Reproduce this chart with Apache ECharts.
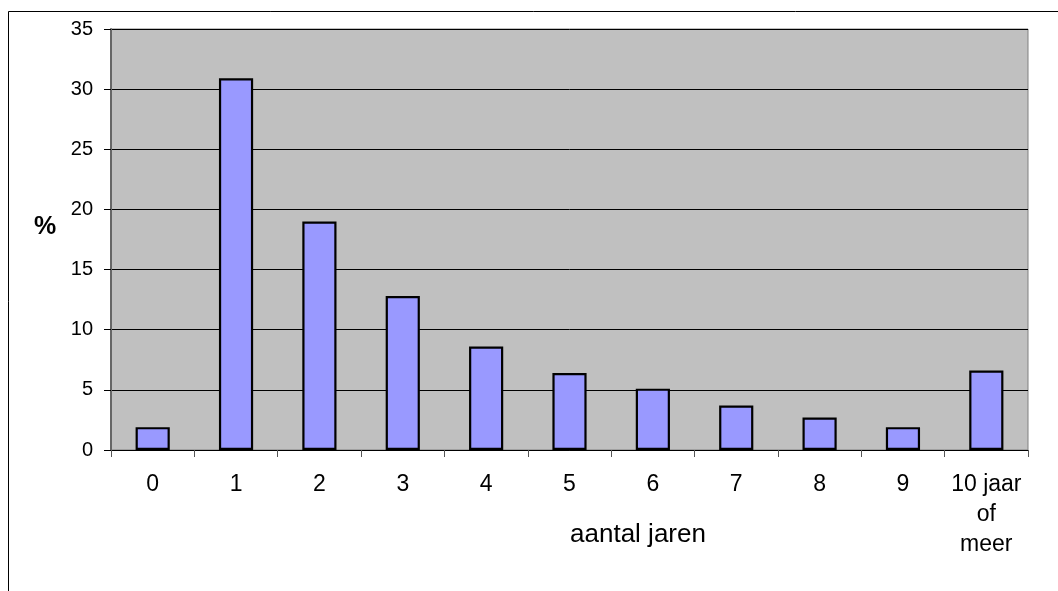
<!DOCTYPE html>
<html>
<head>
<meta charset="utf-8">
<script src="https://cdn.jsdelivr.net/npm/echarts@6/dist/echarts.min.js"></script>
<style>
html,body{margin:0;padding:0;background:#fff;}
#main{width:1058px;height:591px;}
</style>
</head>
<body>
<div id="main"></div>
<script>
const categories = ['0','1','2','3','4','5','6','7','8','9','10 jaar\nof\nmeer'];
const values = [1.9, 30.9, 19.0, 12.8, 8.6, 6.4, 5.1, 3.7, 2.7, 1.9, 6.6];
const yTicks = {min: 0, max: 35, interval: 5};
const yName = '%';
const xName = 'aantal jaren';

const chart = echarts.init(document.getElementById('main'), null, {renderer: 'canvas'});
const font = '"Liberation Sans", Arial, sans-serif';
chart.setOption({
  animation: false,
  backgroundColor: '#ffffff',
  grid: {left: 111, top: 29, right: 30, bottom: 141, show: true, backgroundColor: '#c0c0c0', borderColor: '#808080', borderWidth: 1},
  xAxis: {
    type: 'category',
    data: categories,
    axisLine: {lineStyle: {color: '#000', width: 1}},
    axisTick: {show: true, length: 7, lineStyle: {color: '#555'}},
    axisLabel: {interval: 0, margin: 20, fontFamily: font, fontSize: 23, color: '#000', lineHeight: 30}
  },
  yAxis: {
    type: 'value',
    min: yTicks.min, max: yTicks.max, interval: yTicks.interval,
    axisLine: {show: true, lineStyle: {color: '#666', width: 2}},
    axisTick: {show: true, length: 7, lineStyle: {color: '#000'}},
    axisLabel: {margin: 18, fontFamily: font, fontSize: 20, color: '#000'},
    splitLine: {show: true, lineStyle: {color: '#000', width: 1}}
  },
  graphic: [
    {type: 'polyline', silent: true, z: 100, shape: {points: [[8.5, 591], [8.5, 11.5], [1058, 11.5]]}, style: {stroke: '#000', lineWidth: 1, fill: null}},
    {type: 'text', x: 45, y: 227, z: 100, style: {text: yName, font: 'bold 25px ' + font, fill: '#000', align: 'center', verticalAlign: 'middle'}},
    {type: 'text', x: 638, y: 535, z: 100, style: {text: xName, font: '26px ' + font, fill: '#000', align: 'center', verticalAlign: 'middle'}}
  ],
  series: [{
    type: 'bar',
    data: values,
    barWidth: '41%',
    itemStyle: {color: '#9999ff', borderColor: '#000', borderWidth: 2.2}
  }]
});
</script>
</body>
</html>
